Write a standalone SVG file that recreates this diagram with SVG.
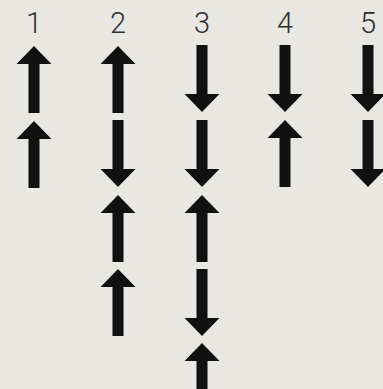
<svg xmlns="http://www.w3.org/2000/svg" xmlns:xlink="http://www.w3.org/1999/xlink" width="383" height="389" viewBox="0 0 383 389">
<style>
.lbl{font-family:Roboto,"Liberation Sans",Arial,sans-serif;font-weight:300;font-size:29px;fill:#2e2e2e;text-anchor:middle}
.ar{fill:#111}
</style>
<defs>
<path id="up" class="ar" d="M0,0 L17.5,18 L5.5,18 L5.5,67 L-5.5,67 L-5.5,18 L-17.5,18 Z"/>
<path id="dn" class="ar" d="M-5.5,0 L5.5,0 L5.5,49 L17.5,49 L0,67 L-17.5,49 L-5.5,49 Z"/>
</defs>
<rect width="383" height="389" fill="#e8e7e2"/>
<g id="col1">
<text class="lbl" x="34" y="33">1</text>
<use xlink:href="#up" x="34" y="46"/>
<use xlink:href="#up" x="34" y="121"/>
</g>
<g id="col2">
<text class="lbl" x="118" y="33">2</text>
<use xlink:href="#up" x="118" y="46"/>
<use xlink:href="#dn" x="118" y="120"/>
<use xlink:href="#up" x="118" y="195"/>
<use xlink:href="#up" x="118" y="269"/>
</g>
<g id="col3">
<text class="lbl" x="202" y="33">3</text>
<use xlink:href="#dn" x="202" y="45"/>
<use xlink:href="#dn" x="202" y="120"/>
<use xlink:href="#up" x="202" y="195"/>
<use xlink:href="#dn" x="202" y="269"/>
<use xlink:href="#up" x="202" y="343"/>
</g>
<g id="col4">
<text class="lbl" x="285" y="33">4</text>
<use xlink:href="#dn" x="285" y="45"/>
<use xlink:href="#up" x="285" y="120"/>
</g>
<g id="col5">
<text class="lbl" x="368" y="33">5</text>
<use xlink:href="#dn" x="368" y="45"/>
<use xlink:href="#dn" x="368" y="120"/>
</g>
<g id="connectors"/>
</svg>
